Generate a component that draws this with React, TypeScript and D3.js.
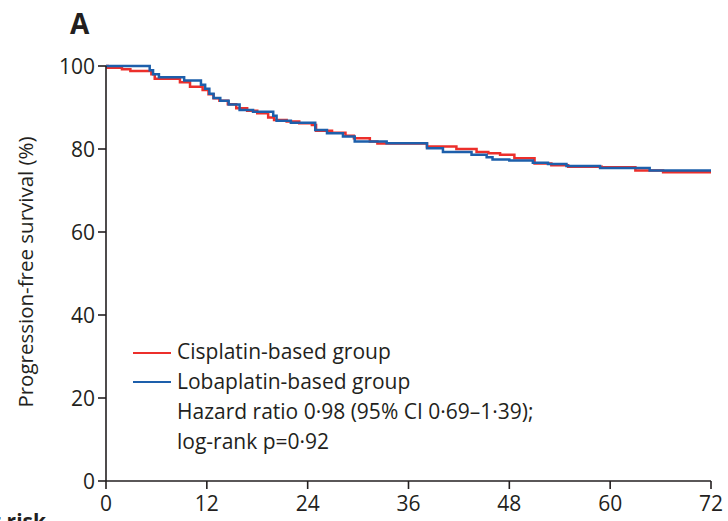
import React from "react";
import * as d3 from "d3";

const xTicks = [0, 12, 24, 36, 48, 60, 72];
const yTicks = [0, 20, 40, 60, 80, 100];

const cisTime = [0, 0.2, 1.9, 2.9, 5.4, 5.8, 8.8, 10, 11.5, 12.2, 12.8, 13.5, 14.5, 15.5, 16.8, 18, 19.3, 20, 21.5, 23, 24.5, 25, 26.9, 28.5, 29.5, 31.4, 32.3, 38.2, 41.7, 44.1, 45.5, 46.9, 48.6, 51, 53, 55, 59, 63, 66.3, 72];
const cisSurv = [100, 99.6, 99.2, 98.8, 98.0, 96.9, 96.1, 95.0, 94.2, 93.2, 92.2, 91.6, 90.8, 89.8, 89.2, 88.6, 87.6, 87.0, 86.6, 86.2, 85.8, 84.4, 83.9, 83.2, 82.6, 81.8, 81.3, 80.6, 80.0, 79.3, 79.0, 78.6, 77.8, 76.5, 76.1, 75.7, 75.6, 74.8, 74.4, 74.4];

const lobTime = [0, 5.2, 5.6, 6.3, 9.3, 11.3, 11.8, 12.3, 12.8, 13.6, 14.6, 15.9, 17.5, 19.9, 20.3, 22, 24.9, 26.3, 28.2, 29.6, 33.4, 38.2, 40.1, 43.5, 45.3, 46, 48, 50.8, 52.6, 54.8, 58.8, 64.7, 72];
const lobSurv = [100, 99.0, 98.0, 97.3, 96.5, 95.5, 94.5, 93.3, 92.3, 91.6, 90.7, 89.4, 89.0, 88.0, 86.8, 86.3, 84.6, 83.8, 83.0, 81.8, 81.4, 80.2, 79.3, 78.6, 78.0, 77.5, 77.2, 76.7, 76.4, 75.9, 75.4, 74.8, 74.8];

const seriesNames = ["Cisplatin-based group", "Lobaplatin-based group"];
const statLines = ["Hazard ratio 0·98 (95% CI 0·69–1·39);", "log-rank p=0·92"];

const RED = "#ec2f2b";
const BLUE = "#1d5fab";
const INK = "#231f20";
const FONT = "'Open Sans', 'Noto Sans', sans-serif";

export default function App() {
  const x = d3.scaleLinear().domain([0, 72]).range([106, 711]);
  const y = d3.scaleLinear().domain([0, 100]).range([481, 66]);
  const line = d3
    .line<[number, number]>()
    .x((d) => x(d[0]))
    .y((d) => y(d[1]))
    .curve(d3.curveStepAfter);
  const cis: [number, number][] = cisTime.map((t, i) => [t, cisSurv[i]]);
  const lob: [number, number][] = lobTime.map((t, i) => [t, lobSurv[i]]);

  return (
    <svg
      width={728}
      height={521}
      style={{ position: "absolute", left: 0, top: 0, background: "#fff" }}
      fontFamily={FONT}
    >
      <rect x={0} y={0} width={728} height={521} fill="#fff" />
      <text x={70} y={34} fontSize={28} fontWeight="bold" fill={INK}>A</text>

      {/* curves */}
      <path d={line(cis) || ""} fill="none" stroke={RED} strokeWidth={2.5} />
      <path d={line(lob) || ""} fill="none" stroke={BLUE} strokeWidth={2.5} />

      {/* axes */}
      <line x1={x(0)} x2={x(0)} y1={y(100)} y2={y(0)} stroke={INK} strokeWidth={1.6} />
      <line x1={x(0)} x2={x(72)} y1={y(0)} y2={y(0)} stroke={INK} strokeWidth={1.6} />
      {yTicks.map((t) => (
        <g key={"y" + t}>
          <line x1={x(0) - 8} x2={x(0)} y1={y(t)} y2={y(t)} stroke={INK} strokeWidth={1.6} />
          <text x={x(0) - 11} y={y(t)} dy="0.36em" textAnchor="end" fontSize={21} fill={INK}>
            {t}
          </text>
        </g>
      ))}
      {xTicks.map((t) => (
        <g key={"x" + t}>
          <line x1={x(t)} x2={x(t)} y1={y(0)} y2={y(0) + 8} stroke={INK} strokeWidth={1.6} />
          <text x={x(t)} y={511} textAnchor="middle" fontSize={21} fill={INK}>
            {t}
          </text>
        </g>
      ))}

      <text
        transform={`translate(33, 272) rotate(-90)`}
        textAnchor="middle"
        fontSize={20.5}
        fill={INK}
      >
        Progression-free survival (%)
      </text>

      {/* legend */}
      <line x1={133} x2={171} y1={353} y2={353} stroke={RED} strokeWidth={1.8} />
      <line x1={133} x2={171} y1={382} y2={382} stroke={BLUE} strokeWidth={1.8} />
      <text x={177} y={359.3} fontSize={21} fill={INK}>{seriesNames[0]}</text>
      <text x={177} y={389.3} fontSize={21} fill={INK}>{seriesNames[1]}</text>
      <text x={177} y={419.3} fontSize={21} fill={INK}>{statLines[0]}</text>
      <text x={177} y={449.3} fontSize={21} fill={INK}>{statLines[1]}</text>

      <text x={46} y={529} textAnchor="end" fontSize={21} fontWeight="bold" fill={INK}>
        Number at risk
      </text>
    </svg>
  );
}
